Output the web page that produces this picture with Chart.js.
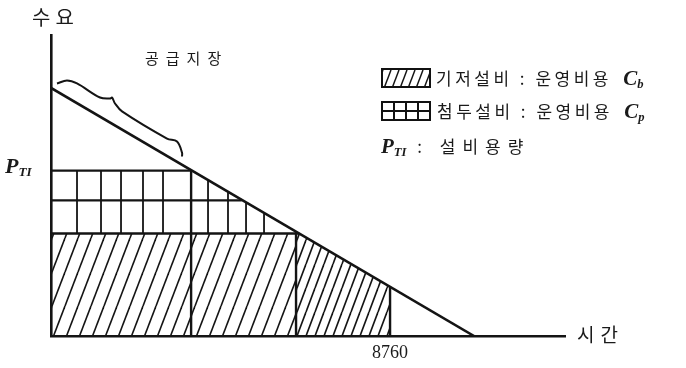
<!DOCTYPE html>
<html>
<head>
<meta charset="utf-8">
<script src="https://cdn.jsdelivr.net/npm/chart.js@4.4.1/dist/chart.umd.min.js"></script>
<style>
  body { margin: 0; background: #fff; }
  #wrap { position: relative; width: 686px; height: 368px; }
  #chart { position: absolute; left: 0; top: 0; }
  .lbl { position: absolute; white-space: nowrap; color: #1a1a1a; font-family: "Noto Sans CJK KR", sans-serif; }
  .it { font-family: "Liberation Serif", "DejaVu Serif", serif; font-style: italic; font-weight: bold; letter-spacing: 0; }
  .it sub { font-size: 60%; vertical-align: -3px; }
  .box { position: absolute; width: 46px; height: 16px; border: 2px solid #111; }
</style>
</head>
<body>
<div id="wrap">
  <canvas id="chart" width="686" height="368"></canvas>
  <div class="lbl" style="left:32px;top:2px;font-size:20px;letter-spacing:5px;">수요</div>
  <div class="lbl" style="left:145px;top:47px;font-size:15px;letter-spacing:7px;">공급지장</div>
  <div class="lbl it" style="left:5px;top:153px;font-size:22px;">P<sub>TI</sub></div>
  <div class="lbl" style="left:577px;top:320px;font-size:19px;letter-spacing:6px;">시간</div>

  <div class="box" id="boxBase" style="left:381px;top:68px;"></div>
  <div class="lbl" style="left:436px;top:65px;font-size:17px;letter-spacing:3.5px;">기저설비 : 운영비용 <span class="it" style="font-size:21px;margin-left:4px;">C<sub>b</sub></span></div>
  <div class="box" id="boxPeak" style="left:381px;top:101px;"></div>
  <div class="lbl" style="left:437px;top:98px;font-size:17px;letter-spacing:3.5px;">첨두설비 : 운영비용 <span class="it" style="font-size:21px;margin-left:4px;">C<sub>p</sub></span></div>
  <div class="lbl" style="left:381px;top:133px;font-size:17px;letter-spacing:7px;"><span class="it" style="font-size:21px;">P<sub>TI</sub></span> : 설비용량</div>
</div>
<script>
// load duration curve (time in hours, demand in relative units)
const demandTimes = [0, 10930];
const demandValues = [150, 0];

// horizontal levels: P_TI capacity, middle grid line, base capacity
const levelValues = [100, 82, 62];
const levelEnds = [3643, 4926, 6412];

// vertical dividers (from the time axis up)
const dividerTimes = [3620, 6331, 8760];
const dividerTops = [100, 63, 29.8];

// grid lines inside the peak block
const peakGridTimes = [672, 1292, 1809, 2377, 2894, 4057, 4573, 5039, 5504];
const peakGridTops = [100, 100, 100, 100, 100, 94, 87, 81, 74];

// base block hatched areas
const baseATimes = [0, 6331];
const baseAValues = [62, 62];
const baseBTimes = [6331, 6412, 8760];
const baseBValues = [62, 62, 29.8];

// brace over the "supply shortage" part
const braceTimes = [155, 413, 672, 1266, 1524, 1576, 1654, 1835, 2997, 3256, 3385, 3385];
const braceValues = [152.7, 154.5, 152.7, 144.2, 143.6, 144.2, 140.6, 135.8, 119.4, 117.6, 110.9, 108.5];

const xTicks = [8760];
const xMax = 13280;
const yMax = 182;

const INK = '#141414';

function pts(xs, ys) {
    return xs.map(function (x, i) { return { x: x, y: ys[i] }; });
}

// build several short segments into one dataset, split by gaps
function segments(list) {
    var out = [];
    list.forEach(function (s) {
        out.push({ x: s[0], y: s[1] });
        out.push({ x: s[2], y: s[3] });
        out.push({ x: s[2], y: null });
    });
    return out;
}

function hatch(step, h, lw) {
    var c = document.createElement('canvas');
    c.width = step; c.height = h;
    var g = c.getContext('2d');
    g.strokeStyle = INK;
    g.lineWidth = lw;
    [-step, 0, step].forEach(function (off) {
        g.beginPath();
        g.moveTo(off, h);
        g.lineTo(off + step, 0);
        g.stroke();
    });
    return c;
}

var ctx = document.getElementById('chart').getContext('2d');
var wideHatch = ctx.createPattern(hatch(13, 34, 1.6), 'repeat');
var tightHatch = ctx.createPattern(hatch(9, 24, 1.6), 'repeat');

// legend swatches
document.getElementById('boxBase').style.backgroundImage = 'url(' + hatch(8, 21, 1.5).toDataURL() + ')';
document.getElementById('boxPeak').style.background =
    'linear-gradient(#111,#111) 0 7px/100% 2px no-repeat,' +
    'linear-gradient(90deg,#111,#111) 10px 0/2px 100% no-repeat,' +
    'linear-gradient(90deg,#111,#111) 22px 0/2px 100% no-repeat,' +
    'linear-gradient(90deg,#111,#111) 34px 0/2px 100% no-repeat';

var frameSegs = [];
levelValues.forEach(function (v, i) { frameSegs.push([0, v, levelEnds[i], v]); });
dividerTimes.forEach(function (t, i) { frameSegs.push([t, 0, t, dividerTops[i]]); });
var gridSegs = peakGridTimes.map(function (t, i) { return [t, levelValues[2], t, peakGridTops[i]]; });

var plain = { pointRadius: 0, fill: false, spanGaps: false, borderColor: INK, tension: 0 };

new Chart(ctx, {
    type: 'line',
    data: {
        datasets: [
            Object.assign({}, plain, { data: pts(baseATimes, baseAValues), borderWidth: 0, fill: 'origin', backgroundColor: wideHatch }),
            Object.assign({}, plain, { data: pts(baseBTimes, baseBValues), borderWidth: 0, fill: 'origin', backgroundColor: tightHatch }),
            Object.assign({}, plain, { data: segments(gridSegs), borderWidth: 1.8 }),
            Object.assign({}, plain, { data: segments(frameSegs), borderWidth: 2.4 }),
            Object.assign({}, plain, { data: pts(demandTimes, demandValues), borderWidth: 2.6 }),
            Object.assign({}, plain, { data: pts(braceTimes, braceValues), borderWidth: 2, tension: 0.35 })
        ]
    },
    options: {
        responsive: false,
        animation: false,
        events: [],
        layout: { padding: { left: 51, top: 35, right: 121, bottom: 0 } },
        plugins: { legend: { display: false }, tooltip: { enabled: false } },
        scales: {
            x: {
                type: 'linear',
                min: 0,
                max: xMax,
                grid: { display: false },
                border: { display: true, color: INK, width: 2.6 },
                afterBuildTicks: function (s) { s.ticks = xTicks.map(function (v) { return { value: v }; }); },
                afterFit: function (s) { s.height = 32; },
                ticks: {
                    padding: -2,
                    maxRotation: 0,
                    color: '#1a1a1a',
                    font: { family: 'Liberation Serif', size: 18 },
                    callback: function (v) { return String(v); }
                }
            },
            y: {
                min: 0,
                max: yMax,
                grid: { display: false },
                border: { display: true, color: INK, width: 2.6 },
                ticks: { display: false },
                afterFit: function (s) { s.width = 0; }
            }
        }
    }
});
</script>
</body>
</html>
